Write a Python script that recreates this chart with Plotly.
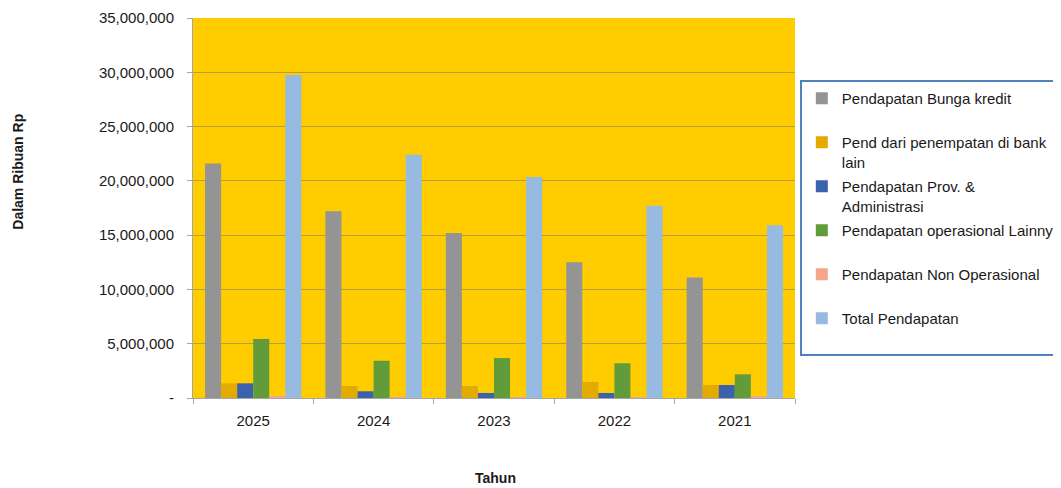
import plotly.graph_objects as go

years = ["2025", "2024", "2023", "2022", "2021"]
series_names = [
    "Pendapatan Bunga kredit<br> ",
    "Pend dari penempatan di bank<br>lain",
    "Pendapatan Prov. &<br>Administrasi",
    "Pendapatan operasional Lainnya<br> ",
    "Pendapatan Non Operasional<br> ",
    "Total Pendapatan<br> ",
]
bunga_kredit = [21600000, 17200000, 15200000, 12500000, 11100000]
penempatan_bank = [1350000, 1100000, 1100000, 1470000, 1200000]
prov_admin = [1350000, 620000, 460000, 460000, 1200000]
operasional_lain = [5430000, 3430000, 3680000, 3200000, 2180000]
non_operasional = [100000, 50000, 50000, 50000, 100000]
total = [29750000, 22400000, 20350000, 17700000, 15900000]

values = [bunga_kredit, penempatan_bank, prov_admin, operasional_lain, non_operasional, total]
colors = ["#949494", "#E3AA00", "#3B62AE", "#629C3A", "#F4A58A", "#96BAE0"]

font = "Liberation Sans"
fig = go.Figure()
for name, vals, col in zip(series_names, values, colors):
    fig.add_trace(go.Bar(x=years, y=vals, name=name, marker=dict(color=col, line=dict(width=0)),
                         legendgroup=name))

fig.update_layout(
    width=1061, height=488,
    margin=dict(l=185, r=274, t=10, b=98, autoexpand=False),
    paper_bgcolor="white",
    plot_bgcolor="#FFCC00",
    barmode="group",
    bargap=0.2,
    bargroupgap=0,
    font=dict(family=font, size=15, color="#404040"),
    showlegend=True,
    legend=dict(
        x=1.008, xanchor="left", y=0.837, yanchor="top",
        bgcolor="white", bordercolor="#4F81BD", borderwidth=2,
        font=dict(family=font, size=15, color="#1a1a1a"),
        valign="top", tracegroupgap=2, traceorder="grouped",
    ),
    xaxis=dict(
        type="category", showline=True, linecolor="#A6A6A6", linewidth=1,
        ticks="outside", tickson="boundaries", ticklen=5, tickcolor="#A6A6A6",
        tickfont=dict(size=15, color="#1a1a1a"), showgrid=False,
        ticklabelstandoff=9,
    ),
    yaxis=dict(
        range=[0, 35000000], tickvals=[0, 5e6, 10e6, 15e6, 20e6, 25e6, 30e6, 35e6],
        ticktext=["-", "5,000,000", "10,000,000", "15,000,000", "20,000,000",
                  "25,000,000", "30,000,000", "35,000,000"],
        showline=True, linecolor="#A6A6A6", linewidth=1,
        ticks="outside", ticklen=5, tickcolor="#A6A6A6",
        gridcolor="rgba(120,120,120,0.55)", gridwidth=1,
        tickfont=dict(size=15, color="#1a1a1a"), zeroline=False,
        ticklabelstandoff=10,
    ),
    shapes=[
        dict(type="rect", xref="paper", yref="paper", x0=1.013, x1=1.5, y0=0.115, y1=0.825,
             fillcolor="rgba(170,170,170,0.25)", line=dict(width=0), layer="above"),
    ],
    annotations=[
        dict(text="<b>Dalam Ribuan Rp</b>", xref="paper", yref="paper", x=-0.291, y=0.595,
             textangle=-90, showarrow=False, xanchor="center", yanchor="middle",
             font=dict(family=font, size=14, color="#1a1a1a")),
        dict(text="<b>Tahun</b>", xref="paper", yref="paper", x=0.502, y=-0.21,
             showarrow=False, xanchor="center", yanchor="middle",
             font=dict(family=font, size=14, color="#1a1a1a")),
    ],
)

fig.write_html("out.html")
